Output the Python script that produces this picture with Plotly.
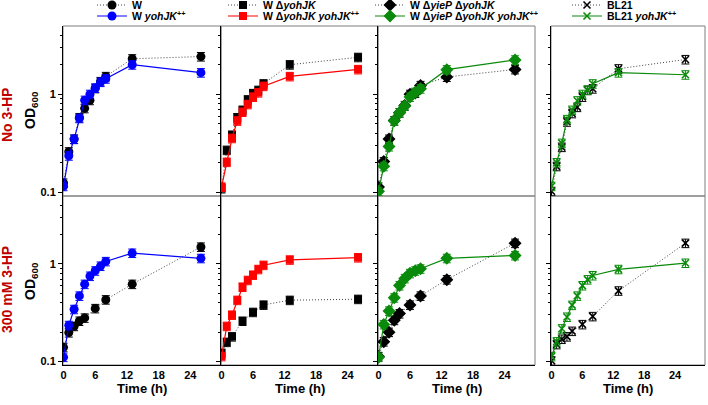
import plotly.graph_objects as go

# ---------------- data ----------------
T_FULL = [0, 1, 2, 3, 4, 5, 6, 7, 8, 13, 26]
T_PART = [0, 1, 2, 3, 4, 6, 8, 13, 26]
T_PART2 = [0, 1, 2, 4, 6, 8, 13, 26]

X_TICKS = [0, 6, 12, 18, 24]
Y_TICKS = [0.1, 1]
Y_TICK_TEXT = ["0.1", "1"]
Y_MINOR = [0.2, 0.3, 0.4, 0.5, 0.6, 0.7, 0.8, 0.9, 2, 3, 4, 5]

# No 3-HP (top row)
top_W = [0.125, 0.26, 0.35, 0.58, 0.72, 0.87, 1.15, 1.35, 1.52, 2.3, 2.42]
top_W_yohJK = [0.116, 0.237, 0.35, 0.57, 0.87, 1.0, 1.16, 1.33, 1.44, 2.0, 1.66]
top_dY = [0.11, 0.27, 0.385, 0.58, 0.69, 0.88, 1.02, 1.1, 1.28, 2.0, 2.38]
top_dY_yohJK = [0.114, 0.204, 0.357, 0.537, 0.66, 0.79, 0.94, 1.04, 1.21, 1.52, 1.79]
top_dP = [0.114, 0.207, 0.35, 0.54, 0.65, 0.77, 1.0, 1.03, 1.23, 1.5, 1.79]
top_dP_yohJK = [0.103, 0.185, 0.294, 0.537, 0.65, 0.76, 0.94, 1.05, 1.14, 1.78, 2.24]
top_BL = [0.103, 0.185, 0.29, 0.525, 0.64, 0.74, 0.94, 1.1, 1.14, 1.82, 2.26]
top_BL_yohJK = [0.116, 0.202, 0.318, 0.555, 0.69, 0.86, 1.0, 1.11, 1.28, 1.66, 1.58]

# 300 mM 3-HP (bottom row)
bot_W = [0.14, 0.198, 0.23, 0.26, 0.28, 0.35, 0.43, 0.62, 1.49]
bot_W_yohJK = [0.111, 0.235, 0.343, 0.47, 0.62, 0.75, 0.85, 0.95, 1.06, 1.29, 1.14]
bot_dY = [0.122, 0.158, 0.18, 0.26, 0.32, 0.38, 0.425, 0.435]
bot_dY_yohJK = [0.113, 0.23, 0.30, 0.425, 0.58, 0.68, 0.77, 0.88, 0.97, 1.10, 1.16]
bot_dP = [0.113, 0.16, 0.2, 0.265, 0.31, 0.38, 0.47, 0.69, 1.63]
bot_dP_yohJK = [0.111, 0.24, 0.33, 0.45, 0.6, 0.71, 0.80, 0.85, 0.89, 1.14, 1.22]
bot_BL = [0.102, 0.15, 0.17, 0.18, 0.205, 0.24, 0.29, 0.53, 1.63]
bot_BL_yohJK = [0.113, 0.16, 0.217, 0.286, 0.378, 0.47, 0.6, 0.69, 0.76, 0.88, 1.02]

NAMES = [
    "W",
    "W <i>yohJK</i><sup>++</sup>",
    "W \u0394<i>yohJK</i>",
    "W \u0394<i>yohJK yohJK</i><sup>++</sup>",
    "W \u0394<i>yieP</i> \u0394<i>yohJK</i>",
    "W \u0394<i>yieP</i> \u0394<i>yohJK yohJK</i><sup>++</sup>",
    "BL21",
    "BL21 <i>yohJK</i><sup>++</sup>",
]

ROW_LABELS = ["No 3-HP", "300 mM 3-HP"]

# ---------------- layout geometry (page pixel coordinates) ----------------
W, H = 708, 405
PL, PR, PT, PB = 63, 705, 26, 365  # plot area
ML, MT, MR, MB = PL, PT, W - PR, H - PB
PW = PR - PL
PH = PB - PT


def fx(p):
    return (p - PL) / PW


def fy(p):
    return (PB - p) / PH


X_DOMS = [(63, 221), (221, 378), (378, 535), (551, 705)]
Y_DOMS = [(26, 196), (196, 365)]

FONT = "Liberation Sans, Arial, sans-serif"
BLUE = "#0000FF"
RED = "#FF0000"
GREEN = "#0A8A0A"
BLACK = "#000000"
DOTC = "#444444"

PANELS = [
    [(T_FULL, top_W, T_PART, bot_W, 0, BLACK, "circle", "dot"),
     (T_FULL, top_W_yohJK, T_FULL, bot_W_yohJK, 1, BLUE, "circle", "solid")],
    [(T_FULL, top_dY, T_PART2, bot_dY, 2, BLACK, "square", "dot"),
     (T_FULL, top_dY_yohJK, T_FULL, bot_dY_yohJK, 3, RED, "square", "solid")],
    [(T_FULL, top_dP, T_PART, bot_dP, 4, BLACK, "diamond", "dot"),
     (T_FULL, top_dP_yohJK, T_FULL, bot_dP_yohJK, 5, GREEN, "diamond", "solid")],
    [(T_FULL, top_BL, T_PART, bot_BL, 6, BLACK, "x-thin", "dot"),
     (T_FULL, top_BL_yohJK, T_FULL, bot_BL_yohJK, 7, GREEN, "x-thin", "solid")],
]

SIZES = {"circle": 9, "square": 8, "diamond": 10, "x-thin": 7}

fig = go.Figure()

for i, series in enumerate(PANELS):
    for r in range(2):
        n = r * 4 + i + 1
        sfx = "" if n == 1 else str(n)
        for (xt, yt, xb, yb, ni, color, sym, dash) in series:
            xs, ys = (xt, yt) if r == 0 else (xb, yb)
            leg = "legend" if ni == 0 else f"legend{ni + 1}"
            marker = dict(symbol=sym, size=SIZES[sym], color=color)
            if sym == "x-thin":
                marker["line"] = dict(color=color, width=1.6)
            if dash == "dot":
                line = dict(color=DOTC, width=1, dash="1px,2px")
            else:
                line = dict(color=color, width=1.2)
            fig.add_trace(go.Scatter(
                x=xs, y=ys, mode="lines+markers",
                name=NAMES[ni],
                line=line,
                marker=marker,
                error_y=dict(type="percent", value=10, color=color, thickness=1, width=4),
                xaxis="x" + sfx, yaxis="y" + sfx,
                legend=leg,
                showlegend=(r == 0),
            ))

layout = dict(
    width=W, height=H,
    margin=dict(l=ML, r=MR, t=MT, b=MB, autoexpand=False),
    paper_bgcolor="white", plot_bgcolor="white",
    font=dict(family=FONT, color="black", size=11),
    shapes=[], annotations=[],
)

for i in range(4):
    for r in range(2):
        n = r * 4 + i + 1
        sfx = "" if n == 1 else str(n)
        x0, x1 = X_DOMS[i]
        y0, y1 = Y_DOMS[r]
        layout["xaxis" + sfx] = dict(
            domain=[fx(x0), fx(x1)], anchor="y" + sfx,
            range=[-0.1, 29.8], tickvals=X_TICKS,
            showticklabels=(r == 1), ticks="",
            tickfont=dict(size=11, weight="bold"),
            showline=(r == 1), linecolor="black", linewidth=1,
            showgrid=False, zeroline=False, automargin=False,
        )
        layout["yaxis" + sfx] = dict(
            domain=[fy(y1), fy(y0)], anchor="x" + sfx,
            type="log", range=[-1.035, 0.695],
            tickvals=Y_TICKS, ticktext=Y_TICK_TEXT,
            showticklabels=(i == 0),
            ticks="outside", ticklen=4, tickcolor="black",
            minor=dict(tickvals=Y_MINOR, ticks="outside", ticklen=2, tickcolor="black", showgrid=False),
            tickfont=dict(size=11, weight="bold"),
            showline=True, linecolor="black", linewidth=1,
            showgrid=False, zeroline=False, automargin=False,
        )
        layout["shapes"].append(dict(
            type="rect", xref=f"x{sfx} domain", yref=f"y{sfx} domain",
            x0=0, x1=1, y0=0, y1=1, line=dict(color="#7f7f7f", width=1), layer="below",
        ))

for i in range(4):
    x0, x1 = X_DOMS[i]
    layout["annotations"].append(dict(
        text="Time (h)", xref="paper", yref="paper",
        x=fx((x0 + x1) / 2), y=fy(388), xanchor="center", yanchor="middle",
        showarrow=False, font=dict(size=13, weight="bold", family=FONT),
    ))

for r, yc in enumerate([110, 281]):
    layout["annotations"].append(dict(
        text="OD<sub>600</sub>", xref="paper", yref="paper",
        x=fx(31), y=fy(yc), xanchor="center", yanchor="middle", textangle=-90,
        showarrow=False, font=dict(size=14, weight="bold", family=FONT),
    ))
for r, yc in enumerate([115, 290]):
    layout["annotations"].append(dict(
        text=ROW_LABELS[r], xref="paper", yref="paper",
        x=fx(7), y=fy(yc), xanchor="center", yanchor="middle", textangle=-90,
        showarrow=False, font=dict(size=14, weight="bold", family=FONT, color="#C00000"),
    ))

COL_TEXT_X = [132, 263, 410, 607]
ROW_Y = [5, 16]
for ni in range(8):
    col, row = ni // 2, ni % 2
    key = "legend" if ni == 0 else f"legend{ni + 1}"
    layout[key] = dict(
        x=fx(COL_TEXT_X[col] - 40), y=fy(ROW_Y[row]),
        xanchor="left", yanchor="middle",
        bgcolor="rgba(0,0,0,0)", borderwidth=0,
        font=dict(size=10.5, weight="bold", family=FONT),
        itemwidth=30,
    )

fig.update_layout(**layout)
fig.write_html("out.html", config={"displayModeBar": False},
               post_script="document.body.style.margin='0px';")
